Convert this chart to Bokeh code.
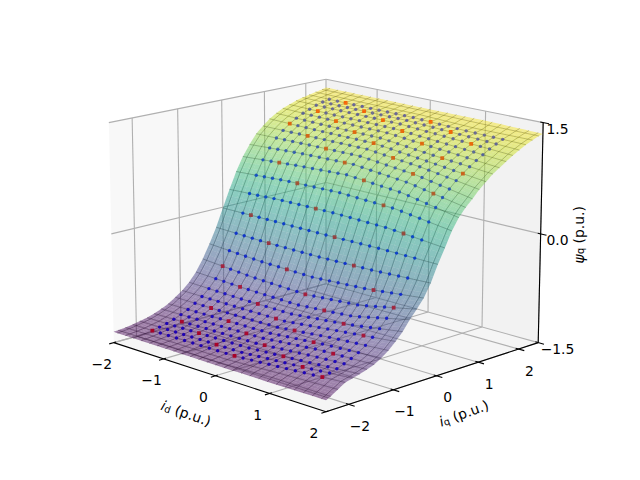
import numpy as np
from bokeh.plotting import figure
from bokeh.models import Range1d
from bokeh.core.properties import value
from bokeh.palettes import Viridis256
from bokeh.embed import file_html
from bokeh.resources import INLINE

id_ticks = [-2, -1, 0, 1, 2]
iq_ticks = [-2, -1, 0, 1, 2]
psi_ticks = [-1.5, 0.0, 1.5]
id_tick_labels = ["\u22122", "\u22121", "0", "1", "2"]
iq_tick_labels = ["\u22122", "\u22121", "0", "1", "2"]
psi_tick_labels = ["\u22121.5", "0.0", "1.5"]
id_limits = [-2.0, 2.0]
iq_limits = [-2.5, 2.5]
psi_limits = [-1.5, 1.5]

id_knots = [-2, -1, 0, 1, 2]
iq_knots = [-2.5, -2.4, -2.24, -2.08, -1.92, -1.76, -1.6, -1.44, -1.28, -1.12, -0.96, -0.8, -0.64,
            -0.48, -0.32, -0.16, 0.0, 0.16, 0.32, 0.48, 0.64, 0.8, 0.96, 1.12, 1.28, 1.44, 1.6,
            1.76, 1.92, 2.08, 2.24, 2.4, 2.5]
psi_id_m2 = [-1.35, -1.345, -1.335, -1.32, -1.30, -1.28, -1.25, -1.21, -1.165, -1.10, -1.03, -0.94, -0.82,
             -0.66, -0.47, -0.26, -0.01, 0.23, 0.46, 0.65, 0.80, 0.93, 1.02, 1.10, 1.16, 1.21, 1.245,
             1.28, 1.305, 1.325, 1.345, 1.365, 1.38]
psi_id_m1 = [-1.35, -1.34, -1.33, -1.315, -1.295, -1.27, -1.235, -1.20, -1.155, -1.10, -1.035, -0.96, -0.855,
             -0.72, -0.52, -0.285, -0.01, 0.26, 0.50, 0.70, 0.84, 0.94, 1.02, 1.085, 1.14, 1.19, 1.23,
             1.27, 1.295, 1.315, 1.335, 1.36, 1.375]
psi_id_0 = [-1.355, -1.345, -1.33, -1.31, -1.29, -1.26, -1.225, -1.185, -1.145, -1.09, -1.035, -0.965, -0.87,
            -0.75, -0.54, -0.29, -0.015, 0.265, 0.515, 0.735, 0.855, 0.945, 1.02, 1.08, 1.13, 1.18, 1.22,
            1.26, 1.29, 1.31, 1.33, 1.355, 1.37]
psi_id_p1 = [-1.355, -1.318, -1.29, -1.258, -1.238, -1.21, -1.164, -1.114, -1.076, -1.014, -0.952, -0.888, -0.81,
             -0.69, -0.497, -0.276, -0.01, 0.244, 0.479, 0.669, 0.778, 0.865, 0.938, 0.994, 1.05, 1.11, 1.16,
             1.21, 1.25, 1.277, 1.30, 1.34, 1.37]
psi_id_p2 = [-1.35, -1.32, -1.26, -1.20, -1.175, -1.15, -1.12, -1.085, -1.03, -0.96, -0.87, -0.77, -0.64,
             -0.53, -0.41, -0.24, -0.02, 0.17, 0.37, 0.52, 0.63, 0.72, 0.82, 0.90, 0.98, 1.04, 1.10,
             1.16, 1.21, 1.26, 1.30, 1.335, 1.35]
psi_table = np.array([psi_id_m2, psi_id_m1, psi_id_0, psi_id_p1, psi_id_p2])

sample_id = [round(-1.6 + 0.16 * i, 2) for i in range(21)]
sample_iq = [round(-2.08 + 0.16 * j, 2) for j in range(27)]
wire_id = [round(-1.6 + 0.16 * k, 2) for k in range(-2, 23)]
wire_iq = iq_knots[1:-1]

# camera of the 3D view
ELEV, AZIM = np.radians(15.0), np.radians(-45.0)
BOX = (1.1905, 1.1905, 0.8929)
SCALE, CX, CY = 255.0, 325.5, 233.4
GRID = "#b0b0b0"


def project(x, y, z):
    x, y, z = np.asarray(x, float), np.asarray(y, float), np.asarray(z, float)
    a = (x - id_limits[0]) / (id_limits[1] - id_limits[0]) * BOX[0] - BOX[0] / 2
    b = (y - iq_limits[0]) / (iq_limits[1] - iq_limits[0]) * BOX[1] - BOX[1] / 2
    c = (z - psi_limits[0]) / (psi_limits[1] - psi_limits[0]) * BOX[2] - BOX[2] / 2
    ce, se, ca, sa = np.cos(ELEV), np.sin(ELEV), np.cos(AZIM), np.sin(AZIM)
    h = -sa * a + ca * b
    v = -se * ca * a - se * sa * b + ce * c
    d = ce * ca * a + ce * sa * b + se * c
    f = 1.0 / (1.0 - d / 10.0)
    return CX + SCALE * h * f, 480.0 - (CY - SCALE * v * f)


def psi_grid(xs, ys):
    by_iq = np.array([np.interp(ys, iq_knots, row) for row in psi_table])
    return np.array([[np.interp(x, id_knots, by_iq[:, j]) for j in range(len(ys))] for x in xs])


p = figure(width=624, height=464, x_range=Range1d(0, 624), y_range=Range1d(16, 480),
           output_backend="svg", toolbar_location=None, min_border=0,
           outline_line_color=None, background_fill_color="white", border_fill_color="white")
p.xaxis.visible = False
p.yaxis.visible = False
p.xgrid.visible = False
p.ygrid.visible = False

xmin, xmax = id_limits
ymin, ymax = iq_limits
zmin, zmax = psi_limits


def pane(xs, ys, zs, color):
    sx, sy = project(xs, ys, zs)
    p.patch(list(sx), list(sy), fill_color=color, fill_alpha=0.5, line_color=None)


pane([xmin, xmin, xmin, xmin], [ymin, ymax, ymax, ymin], [zmin, zmin, zmax, zmax], "#f2f2f2")
pane([xmin, xmax, xmax, xmin], [ymax, ymax, ymax, ymax], [zmin, zmin, zmax, zmax], "#e6e6e6")
pane([xmin, xmax, xmax, xmin], [ymin, ymin, ymax, ymax], [zmin, zmin, zmin, zmin], "#ececec")


def seg(pa, pb, color, width):
    sx, sy = project([pa[0], pb[0]], [pa[1], pb[1]], [pa[2], pb[2]])
    p.line(list(sx), list(sy), line_color=color, line_width=width)


for t in id_ticks:
    seg((t, ymin, zmin), (t, ymax, zmin), GRID, 1.1)
    seg((t, ymax, zmin), (t, ymax, zmax), GRID, 1.1)
for t in iq_ticks:
    seg((xmax, t, zmin), (xmin, t, zmin), GRID, 1.1)
    seg((xmin, t, zmin), (xmin, t, zmax), GRID, 1.1)
for t in psi_ticks:
    seg((xmin, ymin, t), (xmin, ymax, t), GRID, 1.1)
    seg((xmin, ymax, t), (xmax, ymax, t), GRID, 1.1)

seg((xmin, ymin, zmin), (xmax, ymin, zmin), "black", 1.1)
seg((xmax, ymin, zmin), (xmax, ymax, zmin), "black", 1.1)
seg((xmax, ymax, zmin), (xmax, ymax, zmax), "black", 1.1)
for t in id_ticks:
    seg((t, ymin - 0.10, zmin), (t, ymin + 0.05, zmin), "black", 1.1)
for t in iq_ticks:
    seg((xmax + 0.10, t, zmin), (xmax - 0.05, t, zmin), "black", 1.1)
for t in psi_ticks:
    seg((xmax + 0.10, ymax, t), (xmax - 0.05, ymax, t), "black", 1.1)

# wireframe
wx = np.array(wire_id)
wy = np.array(wire_iq)
fine_x = np.linspace(xmin, xmax, 41)
fine_y = np.array(iq_knots)
WIRE_W, WIRE_A = 0.65, 0.55
zz = psi_grid(wx, fine_y)
for i, x in enumerate(wx):
    sx, sy = project(np.full_like(fine_y, x), fine_y, zz[i])
    p.line(list(sx), list(sy), line_color="black", line_width=WIRE_W, line_alpha=WIRE_A)
zz = psi_grid(fine_x, wy)
for j, y in enumerate(wy):
    sx, sy = project(fine_x, np.full_like(fine_x, y), zz[:, j])
    p.line(list(sx), list(sy), line_color="black", line_width=WIRE_W, line_alpha=WIRE_A)

# samples
samples = psi_grid(sample_id, sample_iq)
blue_x, blue_y, blue_z, red_x, red_y, red_z = [], [], [], [], [], []
for i, x in enumerate(sample_id):
    for j, y in enumerate(sample_iq):
        if (3 * i - j) % 10 == 0:
            red_x.append(x); red_y.append(y); red_z.append(samples[i, j])
        else:
            blue_x.append(x); blue_y.append(y); blue_z.append(samples[i, j])
sx, sy = project(blue_x, blue_y, blue_z)
p.scatter(list(sx), list(sy), size=3.4, marker="circle", fill_color="#0000ff", line_color=None)
sx, sy = project(red_x, red_y, red_z)
p.scatter(list(sx), list(sy), size=3.8, marker="square", fill_color="#ff0000", line_color=None)

# surface
surf_y = np.array(sorted(set(np.round(np.concatenate(
    [np.linspace(iq_knots[k], iq_knots[k + 1], 4) for k in range(len(iq_knots) - 1)]), 4))))
zz = psi_grid(fine_x, surf_y)
lo, hi = zz.min(), zz.max()
xs_all, ys_all, cols = [], [], []
for i in range(len(fine_x) - 1):
    for j in range(len(surf_y) - 1):
        qx = [fine_x[i], fine_x[i + 1], fine_x[i + 1], fine_x[i]]
        qy = [surf_y[j], surf_y[j], surf_y[j + 1], surf_y[j + 1]]
        qz = [zz[i, j], zz[i + 1, j], zz[i + 1, j + 1], zz[i, j + 1]]
        sx, sy = project(qx, qy, qz)
        xs_all.append(list(sx)); ys_all.append(list(sy))
        cols.append(Viridis256[int(np.clip((np.mean(qz) - lo) / (hi - lo), 0, 1) * 255)])
p.patches(xs_all, ys_all, fill_color=cols, fill_alpha=0.5, line_color=None)

FS = "13.9px"
FONT = value("DejaVu Sans")


def put(sx, sy, txt, align="center", base="middle", angle=0.0, style="normal", size=FS):
    p.text([sx], [sy], text=[txt], text_align=align, text_baseline=base, angle=[angle],
           angle_units="deg", text_font=FONT, text_font_size=size, text_font_style=style,
           text_color="black")


for t, lab in zip(id_ticks, id_tick_labels):
    sx, sy = project(t, ymin, zmin)
    put(float(sx) - 12, float(sy) - 21.5, lab)
for t, lab in zip(iq_ticks, iq_tick_labels):
    sx, sy = project(xmax, t, zmin)
    put(float(sx) + 11, float(sy) - 21.5, lab)
for t, lab in zip(psi_ticks, psi_tick_labels):
    sx, sy = project(xmax, ymax, t)
    put(557.0, float(sy) - 6, lab)


def axis_label(cx, cy, deg, pieces, total):
    """pieces: (text, style, size_px, advance_px, drop_px)"""
    r = np.radians(deg)
    ux, uy = np.cos(r), np.sin(r)
    nx, ny = -uy, ux
    px = cx - ux * total / 2 - nx * 4
    py = cy - uy * total / 2 - ny * 4
    for txt, style, size, adv, drop in pieces:
        put(px - nx * drop, py - ny * drop, txt, align="left", base="alphabetic", angle=deg,
            style=style, size=f"{size}px")
        px += ux * adv
        py += uy * adv


SP = 4.4
axis_label(187, 480 - 409, -19.0,
           [("i", "italic", 13.9, 3.9, 0), ("d", "normal", 9.7, 6.2 + SP, 2.1), ("(p.u.)", "normal", 13.9, 38, 0)], 52)
axis_label(462, 480 - 409, 20.0,
           [("i", "italic", 13.9, 3.9, 0), ("q", "normal", 9.7, 6.2 + SP, 2.1), ("(p.u.)", "normal", 13.9, 38, 0)], 52)
axis_label(574, 480 - 234, 90.0,
           [("\u03c8", "italic", 13.9, 9.5, 0), ("q", "normal", 9.7, 6.2 + SP, 2.1), ("(p.u.)", "normal", 13.9, 38, 0)], 58)

open("out.html", "w").write(file_html(p, INLINE))
